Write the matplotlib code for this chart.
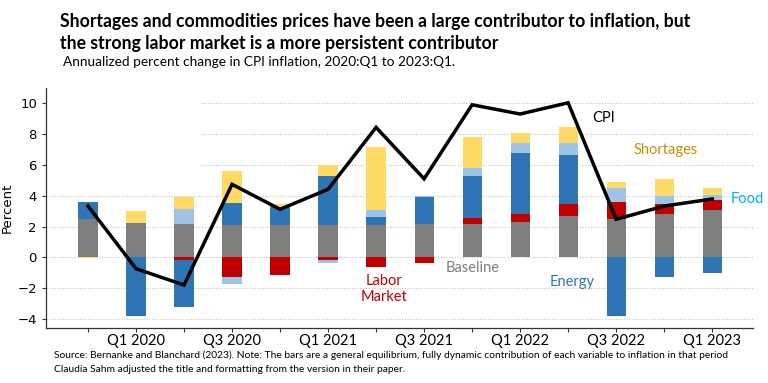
import matplotlib
matplotlib.use("Agg")
import matplotlib.pyplot as plt
import numpy as np
from matplotlib.patches import Rectangle

quarters = ["Q4 2019", "Q1 2020", "Q2 2020", "Q3 2020", "Q4 2020", "Q1 2021", "Q2 2021",
            "Q3 2021", "Q4 2021", "Q1 2022", "Q2 2022", "Q3 2022", "Q4 2022", "Q1 2023"]
tick_labels = ["", "Q1 2020", "", "Q3 2020", "", "Q1 2021", "", "Q3 2021", "", "Q1 2022",
               "", "Q3 2022", "", "Q1 2023"]
baseline = [2.47, 2.25, 2.16, 2.08, 2.08, 2.08, 2.08, 2.16, 2.16, 2.32, 2.71, 2.47, 2.81, 3.07]
labor = [0, 0, -0.17, -1.30, -1.17, -0.17, -0.65, -0.37, 0.37, 0.50, 0.74, 1.13, 0.65, 0.63]
energy = [1.10, -3.81, -3.08, 1.47, 1.21, 3.20, 0.56, 1.73, 2.77, 3.98, 3.20, -3.79, -1.26, -1.04]
food = [0, 0, 0.95, -0.43, 0, -0.17, 0.43, 0.10, 0.48, 0.65, 0.76, 0.91, 0.54, 0.37]
shortages = [-0.04, 0.78, 0.82, 2.06, 0.17, 0.69, 4.07, 0, 2.01, 0.60, 1.08, 0.37, 1.06, 0.41]
cpi = [3.33, -0.74, -1.80, 4.74, 3.12, 4.42, 8.44, 5.10, 9.91, 9.31, 10.04, 2.47, 3.33, 3.79]

components = [
    ("Baseline", baseline, "#7f7f7f"),
    ("Labor Market", labor, "#c00000"),
    ("Energy", energy, "#2e75b6"),
    ("Food", food, "#9dc3e6"),
    ("Shortages", shortages, "#ffd966"),
]

FONT = "Lato"
fig = plt.figure(figsize=(7.68, 3.83), dpi=100)
ax = fig.add_axes([46/768, 1-327.5/383, (753-46)/768, (327.5-88)/383])

x = np.arange(len(quarters))
pos_bottom = np.zeros(len(x))
neg_bottom = np.zeros(len(x))
for name, vals, col in components:
    v = np.array(vals, dtype=float)
    bottoms = np.where(v >= 0, pos_bottom, neg_bottom)
    ax.bar(x, v, bottom=bottoms, width=0.4, color=col, zorder=3, linewidth=0)
    pos_bottom += np.where(v >= 0, v, 0)
    neg_bottom += np.where(v < 0, v, 0)

ax.plot(x, cpi, color="black", lw=2.5, zorder=5, solid_joinstyle="miter")

ax.set_xlim(-0.875, 13.85)
ax.set_ylim(-4.56, 11.0)
ax.set_yticks(np.arange(-4, 11, 2))
ax.set_yticklabels([f"{t}" if t >= 0 else f"\u2212{-t}" for t in range(-4, 11, 2)], fontsize=9.5)
ax.set_xticks(x)
ax.set_xticklabels(tick_labels, fontsize=10.5, family=FONT)
ax.tick_params(axis="both", length=3, color="#333333", direction="out")
ax.tick_params(axis="x", pad=2)
ax.yaxis.grid(True, linestyle=(0, (1, 1.5)), color="#c0c0c0", lw=0.8, zorder=0)
ax.set_axisbelow(True)
for s in ["top", "right"]:
    ax.spines[s].set_visible(False)
for s in ["left", "bottom"]:
    ax.spines[s].set_color("#333333")
    ax.spines[s].set_linewidth(0.9)

# blank area (former legend area) that hides upper gridlines
ax.add_patch(Rectangle((-0.87, 5.0), 2.375 + 0.87, 6.0, facecolor="white", edgecolor="none", zorder=1))

ax.set_ylabel("Percent", fontsize=9.5)
ax.yaxis.set_label_coords(-0.045, 0.5)

ax.text(10.5, 9.08, "CPI", fontsize=10.5, family=FONT, color="black", va="center", ha="left", zorder=6)
ax.text(12.04, 6.97, "Shortages", fontsize=10.5, family=FONT, color="#bf9000", va="center", ha="center")
ax.text(13.375, 3.78, "Food", fontsize=10.5, family=FONT, color="#00b0f0", va="center", ha="left")
ax.text(10.08, -1.58, "Energy", fontsize=10.5, family=FONT, color="#2e75b6", va="center", ha="center")
ax.text(8.02, -0.72, "Baseline", fontsize=10.5, family=FONT, color="#7f7f7f", va="center", ha="center")
ax.text(6.17, -2.06, "Labor\nMarket", fontsize=10.5, family=FONT, color="#c00000", va="center",
        ha="center", linespacing=1.25)

fig.text(60/768, 1-22/383, "Shortages and commodities prices have been a large contributor to inflation, but",
         fontsize=12.7, fontweight="bold", family=FONT, va="center", ha="left")
fig.text(60/768, 1-43/383, "the strong labor market is a more persistent contributor",
         fontsize=12.7, fontweight="bold", family=FONT, va="center", ha="left")
fig.text(63/768, 1-62/383, "Annualized percent change in CPI inflation, 2020:Q1 to 2023:Q1.",
         fontsize=9.8, family=FONT, va="center", ha="left")
fig.text(54/768, 1-355/383, "Source: Bernanke and Blanchard (2023). Note: The bars are a general equilibrium, fully dynamic contribution of each variable to inflation in that period",
         fontsize=7.4, family=FONT, va="center", ha="left")
fig.text(54/768, 1-369/383, "Claudia Sahm adjusted the title and formatting from the version in their paper.",
         fontsize=7.4, family=FONT, va="center", ha="left")

fig.savefig("out.png", dpi=100)
